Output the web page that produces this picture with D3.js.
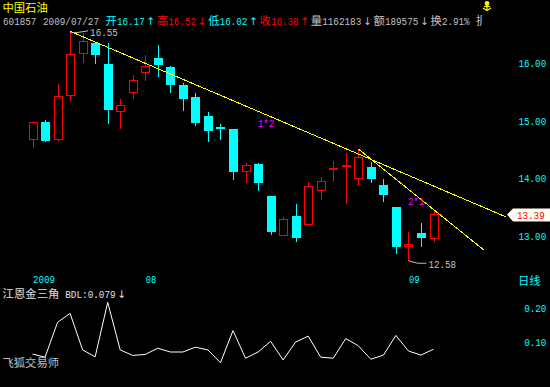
<!DOCTYPE html>
<html>
<head>
<meta charset="utf-8">
<script src="https://cdn.jsdelivr.net/npm/d3@7"></script>
<style>
  html, body { margin: 0; padding: 0; background: #000; }
  svg { display: block; }
</style>
</head>
<body>
<script>
// trading days shown on the chart
const dates = [
  '2009-07-21', '2009-07-22', '2009-07-23', '2009-07-24', '2009-07-27', '2009-07-28', '2009-07-29',
  '2009-07-30', '2009-07-31', '2009-08-03', '2009-08-04', '2009-08-05', '2009-08-06', '2009-08-07',
  '2009-08-10', '2009-08-11', '2009-08-12', '2009-08-13', '2009-08-14', '2009-08-17', '2009-08-18',
  '2009-08-19', '2009-08-20', '2009-08-21', '2009-08-24', '2009-08-25', '2009-08-26', '2009-08-27',
  '2009-08-28', '2009-08-31', '2009-09-01', '2009-09-02', '2009-09-03'
]
const open = [14.69, 14.97, 14.68, 15.44, 16.17, 16.34, 15.98, 15.16, 15.49, 15.84, 16.09, 15.93, 15.62, 15.41,
  15.08, 14.89, 14.86, 14.13, 14.25, 13.69, 13.02, 13.35, 13.20, 13.80, 14.18, 14.23, 14.00, 14.20,
  13.89, 13.50, 12.82, 13.05, 12.97]
const high = [14.97, 15.01, 15.64, 16.55, 16.52, 16.36, 16.34, 15.38, 15.79, 16.14, 16.31, 15.95, 15.65, 15.48,
  15.15, 14.94, 14.86, 14.27, 14.27, 13.69, 13.33, 13.56, 13.94, 14.02, 14.30, 14.44, 14.51, 14.28,
  13.99, 13.50, 13.07, 13.23, 13.43]
const low = [14.55, 14.65, 14.64, 15.36, 16.02, 16.00, 14.96, 14.88, 15.39, 15.71, 15.78, 15.49, 15.19, 14.93,
  14.65, 14.68, 13.99, 13.93, 13.80, 13.03, 13.02, 12.92, 13.20, 13.64, 13.96, 13.57, 13.91, 13.94,
  13.60, 12.71, 12.58, 12.82, 12.92]
const close = [14.97, 14.67, 15.43, 16.15, 16.38, 16.16, 15.21, 15.27, 15.71, 15.95, 15.99, 15.64, 15.40, 14.98,
  14.83, 14.885, 14.13, 14.23, 13.94, 13.09, 13.30, 12.99, 13.87, 13.96, 14.185, 14.235, 14.37, 14.00,
  13.72, 12.82, 12.86, 12.99, 13.39]
// 江恩金三角 BDL
const bdl = [0.065, 0.056, 0.157, 0.183, 0.077, 0.057, 0.215, 0.077, 0.061, 0.064, 0.082, 0.071, 0.071, 0.085,
  0.077, 0.040, 0.133, 0.053, 0.071, 0.102, 0.048, 0.100, 0.117, 0.056, 0.053, 0.110, 0.089, 0.050,
  0.062, 0.119, 0.074, 0.062, 0.079]

const priceTicks = [16, 15, 14, 13]
const bdlTicks = [0.2, 0.1]
const monthLabels = [{ i: 0, t: '2009' }, { i: 9, t: '08' }, { i: 30, t: '09' }]
// Gann lines: start / end as [bar index, price], label anchor as [bar index, price]
const gannLines = [
  { name: '1*2', from: [3, 16.55], to: [37.8, 13.33], at: [19.35, 14.89] },
  { name: '2*1', from: [26, 14.51], to: [36, 12.76], at: [31.32, 13.54] }
]
const cursor = 4           // bar shown in the header
const volume = '1162183'
const amount = '189575'
const turnover = '2.91%'

const RED = '#ff0000', CYAN = '#00ffff', YEL = '#ffff00', MAG = '#ff00ff', GRAY = '#c0c0c0'
const MONO = '"Liberation Mono", "DejaVu Sans Mono", monospace'
const CJK = '"Noto Sans CJK SC", sans-serif'
const CELL = 5.7

let width = 550
let height = 387

let svg = d3.select('body').append('svg')
  .attr('width', width)
  .attr('height', height)
  .style('background', '#000')

let x = d3.scaleLinear().domain([0, dates.length - 1]).range([32.5, 433.5])
let y = d3.scaleLinear().domain([13, 16]).range([236, 63])
let yb = d3.scaleLinear().domain([0.1, 0.2]).range([342, 307.5])

/* text laid out in half / full width cells like the original terminal font */
function cells(g, x0, ty, str, color) {
  let cx = x0, run = '', runX = x0
  const flush = () => {
    if (!run) return
    g.append('text')
      .attr('x', runX).attr('y', ty)
      .attr('fill', color)
      .attr('font-family', MONO).attr('font-size', 11.5)
      .attr('textLength', run.length * CELL - 0.8)
      .attr('lengthAdjust', 'spacingAndGlyphs')
      .text(run)
    run = ''
  }
  for (const ch of str) {
    if (ch === ' ') { flush(); cx += CELL; continue }
    if (ch.charCodeAt(0) > 255) {
      flush()
      if (ch === '↑' || ch === '↓') {
        g.append('text').attr('x', cx + 5.2).attr('y', ty)
          .attr('text-anchor', 'middle').attr('fill', color)
          .attr('font-family', '"DejaVu Sans"').attr('font-size', 10.5)
          .text(ch)
      } else {
        g.append('text').attr('x', cx).attr('y', ty)
          .attr('fill', color).attr('font-family', CJK).attr('font-size', 11.3)
          .text(ch)
      }
      cx += 2 * CELL
    } else {
      if (!run) runX = cx
      run += ch
      cx += CELL
    }
  }
  flush()
  return cx
}

/* header */
svg.append('text')
  .attr('x', 2.5).attr('y', 11.5)
  .attr('fill', YEL).attr('font-family', CJK).attr('font-size', 11.3)
  .text('中国石油')

svg.append('clipPath').attr('id', 'hdr')
  .append('rect').attr('x', 0).attr('y', 12).attr('width', 482).attr('height', 20)

let hdr = svg.append('g').attr('clip-path', 'url(#hdr)')
let hx = 3
hx = cells(hdr, hx, 25, '601857 ' + dates[cursor].replace(/-/g, '/') + ' ', GRAY)
hx = cells(hdr, hx, 25, '开' + open[cursor].toFixed(2) + '↑', CYAN)
hx = cells(hdr, hx, 25, '高' + high[cursor].toFixed(2) + '↓', RED)
hx = cells(hdr, hx, 25, '低' + low[cursor].toFixed(2) + '↑', CYAN)
hx = cells(hdr, hx, 25, '收' + close[cursor].toFixed(2) + '↑', RED)
hx = cells(hdr, hx, 25, '量' + volume + '↓额' + amount + '↓换' + turnover + ' 振', GRAY)

/* small yellow marker, top right */
let icon = svg.append('g').attr('stroke', YEL).attr('fill', 'none').attr('stroke-width', 1.2)
icon.append('circle').attr('cx', 487).attr('cy', 3.5).attr('r', 1.8).attr('fill', YEL)
icon.append('line').attr('x1', 487).attr('y1', 4).attr('x2', 487).attr('y2', 10.5)
icon.append('line').attr('x1', 484).attr('y1', 6.5).attr('x2', 490).attr('y2', 6.5)
icon.append('path').attr('d', 'M483,8 L487,10.5 L491,8')

/* candles */
let bars = dates.map((d, i) => ({ i, o: open[i], h: high[i], l: low[i], c: close[i] }))
let cg = svg.append('g').attr('shape-rendering', 'crispEdges')

bars.forEach(b => {
  let cx = Math.round(x(b.i))
  let up = b.c > b.o
  let col = up ? RED : CYAN
  let top = Math.round(y(Math.max(b.o, b.c)))
  let bot = Math.round(y(Math.min(b.o, b.c)))
  let yh = Math.round(y(b.h)), yl = Math.round(y(b.l))
  let L = cx - 4

  if (bot - top < 2) {
    // doji
    cg.append('line').attr('x1', cx + 0.5).attr('x2', cx + 0.5).attr('y1', yh).attr('y2', yl + 1).attr('stroke', col)
    cg.append('rect').attr('x', L).attr('y', top).attr('width', 9).attr('height', 2).attr('fill', col)
    return
  }
  if (up) {
    if (yh < top) cg.append('line').attr('x1', cx + 0.5).attr('x2', cx + 0.5).attr('y1', yh).attr('y2', top).attr('stroke', col)
    if (yl > bot) cg.append('line').attr('x1', cx + 0.5).attr('x2', cx + 0.5).attr('y1', bot + 1).attr('y2', yl + 1).attr('stroke', col)
    cg.append('rect').attr('x', L + 0.5).attr('y', top + 0.5)
      .attr('width', 8).attr('height', bot - top)
      .attr('fill', 'none').attr('stroke', col)
  } else {
    cg.append('line').attr('x1', cx + 0.5).attr('x2', cx + 0.5).attr('y1', yh).attr('y2', yl + 1).attr('stroke', col)
    cg.append('rect').attr('x', L).attr('y', top)
      .attr('width', 9).attr('height', bot - top + 1)
      .attr('fill', col)
  }
})

/* gann lines */
gannLines.forEach(g => {
  svg.append('line')
    .attr('x1', x(g.from[0])).attr('y1', y(g.from[1]))
    .attr('x2', x(g.to[0])).attr('y2', y(g.to[1]))
    .attr('stroke', YEL).attr('stroke-width', 1)
    .attr('shape-rendering', 'crispEdges')
  cells(svg, x(g.at[0]) - g.name.length * CELL, y(g.at[1]), g.name, MAG)
})

/* highest / lowest markers */
let iHi = d3.maxIndex(high), iLo = d3.minIndex(low)
let hx0 = x(iHi), hy0 = y(high[iHi])
svg.append('polyline')
  .attr('points', [[hx0, hy0 + 1.5], [hx0 + 9, hy0 + 1], [hx0 + 18, hy0 - 0.5]].join(' '))
  .attr('fill', 'none').attr('stroke', GRAY)
cells(svg, hx0 + 20, hy0 + 4.5, high[iHi].toFixed(2), GRAY)

let lx0 = x(iLo), ly0 = y(low[iLo])
svg.append('polyline')
  .attr('points', [[lx0, ly0 + 0.5], [lx0 + 9, ly0 + 3], [lx0 + 18, ly0 + 3]].join(' '))
  .attr('fill', 'none').attr('stroke', GRAY)
cells(svg, lx0 + 20, ly0 + 8, low[iLo].toFixed(2), GRAY)

/* right price axis */
priceTicks.forEach(v => {
  cells(svg, 547 - 5 * CELL, y(v) + 4, v.toFixed(2), CYAN)
})

/* last price tag */
let last = close[close.length - 1]
let ty = Math.round(y(last)) + 0.5
svg.append('polygon')
  .attr('points', [[507, ty], [513, ty - 6], [550, ty - 6], [550, ty + 7], [513, ty + 7]].join(' '))
  .attr('fill', '#fffff0')
cells(svg, 517, ty + 4.5, last.toFixed(2), RED)

/* month labels */
monthLabels.forEach(m => {
  cells(svg, x(m.i) + 0.5, 283, m.t, CYAN)
})
svg.append('text')
  .attr('x', 518).attr('y', 284.5)
  .attr('fill', CYAN).attr('font-family', CJK).attr('font-size', 11.3)
  .text('日线')

/* indicator panel */
cells(svg, 2.5, 297.5, '江恩金三角 BDL:' + bdl[bdl.length - 1].toFixed(3) + '↓', '#e0e0e0')

bdlTicks.forEach(v => {
  cells(svg, 547 - 4 * CELL, yb(v) + 4, v.toFixed(2), CYAN)
})

svg.append('path')
  .datum(bdl)
  .attr('d', d3.line().x((d, i) => x(i)).y(d => yb(d)))
  .attr('fill', 'none')
  .attr('stroke', '#ffffff')
  .attr('stroke-width', 1)

svg.append('text')
  .attr('x', 2.5).attr('y', 367)
  .attr('fill', GRAY).attr('font-family', CJK).attr('font-size', 11.3)
  .text('飞狐交易师')
</script>
</body>
</html>
